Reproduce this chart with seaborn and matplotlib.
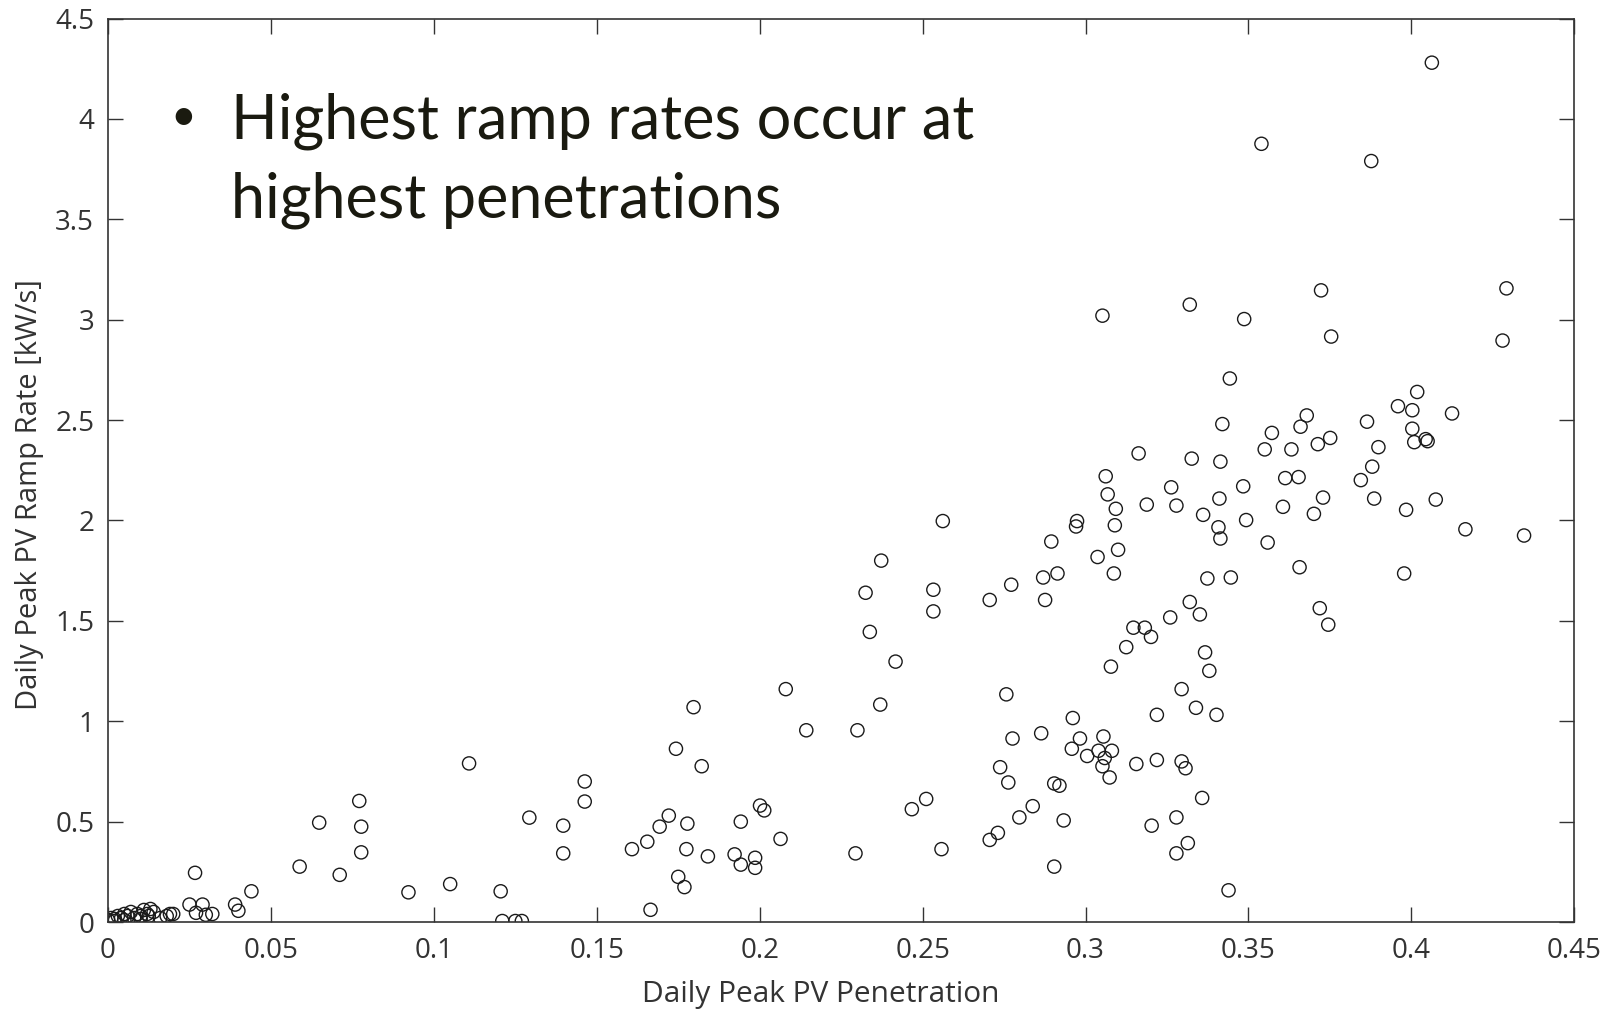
import numpy as np
import pandas as pd
import matplotlib
matplotlib.use("Agg")
import matplotlib.pyplot as plt
import seaborn as sns

# ---- data ----
penetration = [
    0.000, 0.001, 0.002, 0.003, 0.004, 0.005, 0.006, 0.007, 0.008, 0.009, 0.010, 0.011,
    0.012, 0.013, 0.014, 0.016, 0.018, 0.019, 0.002, 0.005, 0.010, 0.0125, 0.020,
    0.0267, 0.025, 0.029, 0.027, 0.030, 0.032, 0.039, 0.040, 0.044, 0.0588, 0.0648,
    0.0711, 0.0771, 0.0777, 0.0777, 0.0922, 0.105, 0.1108, 0.1205, 0.121, 0.125, 0.127,
    0.1293, 0.1397, 0.1397, 0.1463, 0.1463, 0.1608, 0.1655, 0.1665, 0.1693, 0.1721,
    0.1743, 0.175, 0.1769, 0.1775, 0.1778, 0.1797, 0.1822, 0.1841, 0.1923, 0.1942,
    0.1942, 0.1986, 0.1986, 0.2001, 0.2014, 0.2064, 0.208, 0.2143, 0.2294, 0.230,
    0.2325, 0.2338, 0.237, 0.2373, 0.2417, 0.2467, 0.2511, 0.2533, 0.2533, 0.2558,
    0.2562, 0.2706, 0.2706, 0.2731, 0.2738, 0.2757, 0.2763, 0.2772, 0.2776, 0.2797,
    0.2838, 0.2864, 0.287, 0.2876, 0.2895, 0.2904, 0.2904, 0.2914, 0.292, 0.2933,
    0.2961, 0.2958, 0.2971, 0.2974, 0.2983, 0.3005, 0.3037, 0.304, 0.3052, 0.3055,
    0.3052, 0.3059, 0.3062, 0.3068, 0.3074, 0.3078, 0.3081, 0.3093, 0.309, 0.3087,
    0.310, 0.3125, 0.3147, 0.3156, 0.3163, 0.3182, 0.3188, 0.3201, 0.3203, 0.3219,
    0.3219, 0.326, 0.3263, 0.3279, 0.3279, 0.3279, 0.3295, 0.3295, 0.3307, 0.3314,
    0.332, 0.332, 0.3326, 0.3339, 0.3351, 0.3358, 0.3361, 0.3367, 0.3374, 0.338,
    0.3402, 0.3408, 0.3411, 0.3414, 0.3414, 0.342, 0.3439, 0.3443, 0.3446, 0.3484,
    0.3487, 0.3493, 0.354, 0.355, 0.3559, 0.3572, 0.3606, 0.3613, 0.3632, 0.3654,
    0.3657, 0.366, 0.3679, 0.3701, 0.3713, 0.3719, 0.3723, 0.3729, 0.3745, 0.3751,
    0.3754, 0.3845, 0.3864, 0.3877, 0.388, 0.3886, 0.3899, 0.3959, 0.3978, 0.3984,
    0.4003, 0.4003, 0.4009, 0.4018, 0.4044, 0.405, 0.4063, 0.4075, 0.4125, 0.4166,
    0.428, 0.4292, 0.4346,
]
ramp_rate = [
    0.01, 0.02, 0.015, 0.03, 0.02, 0.04, 0.03, 0.05, 0.02, 0.04, 0.03, 0.06,
    0.04, 0.065, 0.05, 0.02, 0.03, 0.04, 0.005, 0.01, 0.015, 0.03, 0.04,
    0.245, 0.087, 0.087, 0.046, 0.036, 0.04, 0.087, 0.056, 0.153, 0.276, 0.495,
    0.235, 0.603, 0.475, 0.347, 0.148, 0.189, 0.79, 0.153, 0.005, 0.005, 0.005,
    0.52, 0.48, 0.342, 0.70, 0.60, 0.363, 0.40, 0.061, 0.475, 0.53,
    0.863, 0.225, 0.174, 0.363, 0.49, 1.07, 0.776, 0.327, 0.337, 0.50,
    0.286, 0.27, 0.32, 0.58, 0.556, 0.414, 1.16, 0.955, 0.342, 0.955,
    1.64, 1.445, 1.083, 1.80, 1.297, 0.562, 0.613, 1.655, 1.547, 0.363,
    1.997, 1.604, 0.409, 0.444, 0.771, 1.134, 0.695, 1.68, 0.914, 0.521,
    0.577, 0.94, 1.716, 1.604, 1.895, 0.69, 0.276, 1.736, 0.679, 0.506,
    1.016, 0.863, 1.97, 1.997, 0.914, 0.827, 1.818, 0.853, 3.02, 0.924,
    0.776, 0.817, 2.22, 2.13, 0.72, 1.272, 0.853, 2.058, 1.976, 1.736,
    1.854, 1.369, 1.466, 0.787, 2.334, 1.466, 2.079, 1.42, 0.48, 1.032,
    0.807, 1.517, 2.165, 2.074, 0.521, 0.342, 1.16, 0.80, 0.766, 0.393,
    3.075, 1.594, 2.308, 1.067, 1.532, 0.618, 2.028, 1.343, 1.711, 1.251,
    1.032, 1.966, 2.109, 2.293, 1.91, 2.48, 0.158, 2.707, 1.716, 2.17,
    3.003, 2.002, 3.876, 2.354, 1.89, 2.436, 2.068, 2.211, 2.354, 2.216,
    1.767, 2.467, 2.523, 2.033, 2.38, 1.563, 3.146, 2.114, 1.481, 2.411,
    2.916, 2.201, 2.492, 3.79, 2.268, 2.109, 2.365, 2.569, 1.736, 2.053,
    2.549, 2.457, 2.39, 2.64, 2.405, 2.395, 4.28, 2.104, 2.533, 1.956,
    2.896, 3.156, 1.925,
]
x_ticks = [0, 0.05, 0.1, 0.15, 0.2, 0.25, 0.3, 0.35, 0.4, 0.45]
x_ticklabels = ["0", "0.05", "0.1", "0.15", "0.2", "0.25", "0.3", "0.35", "0.4", "0.45"]
y_ticks = [0, 0.5, 1, 1.5, 2, 2.5, 3, 3.5, 4, 4.5]
y_ticklabels = ["0", "0.5", "1", "1.5", "2", "2.5", "3", "3.5", "4", "4.5"]
x_label = "Daily Peak PV Penetration"
y_label = "Daily Peak PV Ramp Rate [kW/s]"
note_lines = ["Highest ramp rates occur at", "highest penetrations"]

df = pd.DataFrame({"pen": penetration, "ramp": ramp_rate})

sns.set_theme(style="white")
plt.rcParams["font.family"] = ["Open Sans", "DejaVu Sans"]

fig = plt.figure(figsize=(16.08, 10.11), dpi=100)
ax = fig.add_axes([0.0672, 0.088, 0.9118, 0.8937])

sns.scatterplot(data=df, x="pen", y="ramp", ax=ax, marker="o", s=90,
                facecolors="none", edgecolor="#1a1a1a", linewidth=1.0, legend=False)

ax.set_xlim(0, 0.45)
ax.set_ylim(0, 4.5)
ax.set_xticks(x_ticks)
ax.set_xticklabels(x_ticklabels)
ax.set_yticks(y_ticks)
ax.set_yticklabels(y_ticklabels)
ax.tick_params(axis="both", which="both", direction="in", length=11, width=1.0,
               color="#333333", labelsize=20, labelcolor="#333333",
               top=True, right=True, bottom=True, left=True)
ax.tick_params(axis="x", pad=11)
ax.tick_params(axis="y", pad=10)
for sp in ax.spines.values():
    sp.set_visible(True)
    sp.set_color("#333333")
    sp.set_linewidth(1.2)

ax.set_xlabel(x_label, fontsize=21.5, color="#333333")
ax.set_ylabel(y_label, fontsize=21, color="#333333")
ax.xaxis.set_label_coords(0.486, -0.064)
ax.yaxis.set_label_coords(-0.044, 0.473)

ax.text(0.051, 0.89, "\u2022", transform=ax.transAxes, fontsize=32,
        color="#1a1a10", va="center", ha="center", family=["Lato", "DejaVu Sans"])
ax.text(0.084, 0.918, "\n".join(note_lines), transform=ax.transAxes, fontsize=44,
        color="#1a1a10", va="top", ha="left", linespacing=1.46,
        family=["Lato", "DejaVu Sans"])

fig.savefig("out.png", dpi=100, facecolor="white")
